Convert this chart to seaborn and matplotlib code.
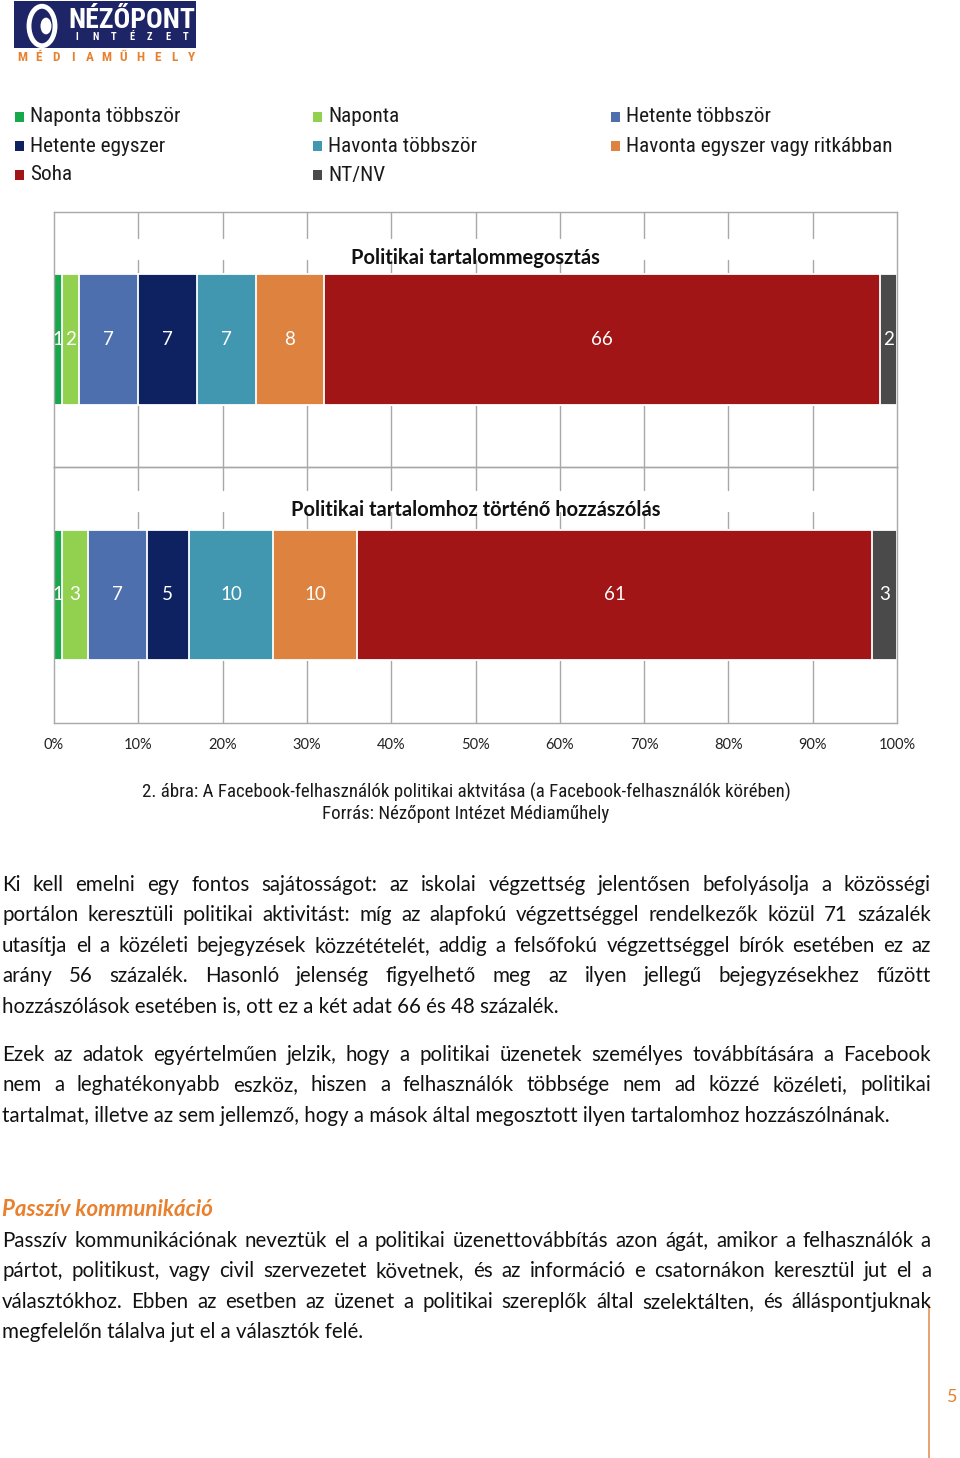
import numpy as np
import pandas as pd
import matplotlib
matplotlib.use("Agg")
import matplotlib.pyplot as plt
import seaborn as sns
from matplotlib import font_manager as fm
from matplotlib.patches import Rectangle, Circle

# ---------------- data ----------------
categories = ["Naponta többször", "Naponta", "Hetente többször", "Hetente egyszer",
              "Havonta többször", "Havonta egyszer vagy ritkábban", "Soha", "NT/NV"]
colors = ["#17a84b", "#92d050", "#4e6fae", "#0e2160", "#4197b0", "#dd823f", "#a11517", "#4a4a4a"]
sharing = [1, 2, 7, 7, 7, 8, 66, 2]
commenting = [1, 3, 7, 5, 10, 10, 61, 3]
panel_titles = ["Politikai tartalommegosztás", "Politikai tartalomhoz történő hozzászólás"]
tick_values = [0, 10, 20, 30, 40, 50, 60, 70, 80, 90, 100]
tick_labels = ["0%", "10%", "20%", "30%", "40%", "50%", "60%", "70%", "80%", "90%", "100%"]

caption = ["2. ábra: A Facebook-felhasználók politikai aktvitása (a Facebook-felhasználók körében)",
           "Forrás: Nézőpont Intézet Médiaműhely"]
para1 = ["Ki kell emelni egy fontos sajátosságot: az iskolai végzettség jelentősen befolyásolja a közösségi",
         "portálon keresztüli politikai aktivitást: míg az alapfokú végzettséggel rendelkezők közül 71 százalék",
         "utasítja el a közéleti bejegyzések közzétételét, addig a felsőfokú végzettséggel bírók esetében ez az",
         "arány 56 százalék. Hasonló jelenség figyelhető meg az ilyen jellegű bejegyzésekhez fűzött",
         "hozzászólások esetében is, ott ez a két adat 66 és 48 százalék."]
para2 = ["Ezek az adatok egyértelműen jelzik, hogy a politikai üzenetek személyes továbbítására a Facebook",
         "nem a leghatékonyabb eszköz, hiszen a felhasználók többsége nem ad közzé közéleti, politikai",
         "tartalmat, illetve az sem jellemző, hogy a mások által megosztott ilyen tartalomhoz hozzászólnának."]
heading = "Passzív kommunikáció"
para3 = ["Passzív kommunikációnak neveztük el a politikai üzenettovábbítás azon ágát, amikor a felhasználók a",
         "pártot, politikust, vagy civil szervezetet követnek, és az információ e csatornákon keresztül jut el a",
         "választókhoz. Ebben az esetben az üzenet a politikai szereplők által szelektálten, és álláspontjuknak",
         "megfelelőn tálalva jut el a választók felé."]
logo_name = "NÉZŐPONT"
logo_sub = "INTÉZET"
logo_unit = "MÉDIAMŰHELY"

# ---------------- fonts ----------------
names = {f.name for f in fm.fontManager.ttflist}
def pick(*cands):
    for c in cands:
        if c in names:
            return c
    return "DejaVu Sans"
BODY = pick("Lato", "Open Sans", "Noto Sans")
NARROW = pick("Liberation Sans Narrow", "Roboto Condensed", "Lato")

sns.set_theme(style="white")
plt.rcParams["font.family"] = [BODY, "DejaVu Sans"]

W, H = 960, 1458
fig = plt.figure(figsize=(W / 100, H / 100), dpi=100)
fig.patch.set_facecolor("white")

def fx(x):
    return x / W
def fy(y):
    return 1 - y / H

GRID = "#a8a8a8"
ORANGE = "#e8812f"

# ---------------- chart panels ----------------
X0, X1 = 54, 897
panels = [(212, 467), (467, 723)]
gaps = [(238, 260), (490, 512)]
title_y = [257, 509]

for i, (vals, title) in enumerate(zip([sharing, commenting], panel_titles)):
    top, bot = panels[i]
    ax = fig.add_axes([fx(X0), fy(bot), (X1 - X0) / W, (bot - top) / H])
    ax.set_facecolor("none")
    cum = np.cumsum(vals)
    df = pd.DataFrame({"series": categories, "value": vals, "cum": cum, "panel": title})
    for j in reversed(range(len(categories))):
        sns.barplot(data=df.iloc[[j]], x="cum", y="panel", orient="h",
                    color=colors[j], saturation=1, width=0.51, errorbar=None,
                    edgecolor="white", linewidth=1.3, ax=ax, zorder=2)
    for j in range(len(categories)):
        ax.text(cum[j] - vals[j] / 2, 0, str(vals[j]), ha="center", va="center",
                color="white", fontsize=13.5, zorder=5)
    ax.set_xlim(0, 100)
    ax.set_ylim(0.5, -0.5)
    ax.set_ylabel("")
    ax.set_xlabel("")
    ax.set_yticks([])
    g0, g1 = gaps[i]
    lo = (bot - g1) / (bot - top)
    hi = (bot - g0) / (bot - top)
    for v in tick_values[1:-1]:
        ax.axvline(v, ymin=0, ymax=lo, color=GRID, lw=1.0, zorder=0)
        ax.axvline(v, ymin=hi, ymax=1, color=GRID, lw=1.0, zorder=0)
    for s in ax.spines.values():
        s.set_visible(True)
        s.set_color(GRID)
        s.set_linewidth(1.0)
    if i == 1:
        ax.set_xticks(tick_values, tick_labels)
        ax.tick_params(axis="x", length=0, pad=11, labelsize=10.5, labelcolor="#222222")
    else:
        ax.set_xticks([])
    fig.text(fx((X0 + X1) / 2), fy(title_y[i] + 1), title, ha="center", va="center",
             fontsize=14.5, fontweight="bold", color="#111111")

# ---------------- legend ----------------
leg_x = [15, 313, 611]
leg_y = [117, 146, 175]
for k, name in enumerate(categories):
    r, c = divmod(k, 3)
    x, y = leg_x[c], leg_y[r]
    fig.add_artist(Rectangle((fx(x), fy(y + 4.5)), 9 / W, 9 / H, transform=fig.transFigure,
                             facecolor=colors[k], edgecolor="none"))
    fig.text(fx(x + 15), fy(y), name, ha="left", va="center", fontsize=15.3,
             family=[NARROW, "DejaVu Sans"], color="#1a1a1a")

# ---------------- caption ----------------
for li, line in enumerate(caption):
    fig.text(fx(466), fy(792 + li * 22), line, ha="center", va="center", fontsize=13.6,
             family=[NARROW, "DejaVu Sans"], color="#1a1a1a")

# ---------------- logo ----------------
NAVY = "#1d2567"
fig.add_artist(Rectangle((fx(14), fy(48)), 182 / W, 47 / H, transform=fig.transFigure,
                         facecolor=NAVY, edgecolor="none"))
fig.add_artist(Circle((fx(42), fy(26)), 13 / W, transform=fig.transFigure,
                      facecolor="none", edgecolor="white", lw=3.5))
fig.add_artist(Circle((fx(46), fy(26)), 5.5 / W, transform=fig.transFigure,
                      facecolor="white", edgecolor="none"))
fig.text(fx(132), fy(20), logo_name, ha="center", va="center", fontsize=20,
         fontweight="bold", color="white", family=[NARROW, "DejaVu Sans"])
sub_x = np.linspace(77, 186, len(logo_sub))
for ch, xx in zip(logo_sub, sub_x):
    fig.text(fx(xx), fy(37), ch, ha="center", va="center", fontsize=7.5,
             fontweight="bold", color="white", family=[NARROW, "DejaVu Sans"])
unit_x = np.linspace(22, 191, len(logo_unit))
for ch, xx in zip(logo_unit, unit_x):
    fig.text(fx(xx), fy(57.5), ch, ha="center", va="center", fontsize=9.5,
             fontweight="bold", color=ORANGE, family=[NARROW, "DejaVu Sans"])

# ---------------- body text ----------------
fig.canvas.draw()
renderer = fig.canvas.get_renderer()

def tw(s, fp):
    w, h, d = renderer.get_text_width_height_descent(s, fp, ismath=False)
    return w

LEFT, RIGHT = 2, 931
base_fs = 14.8
fp0 = fm.FontProperties(family=BODY, size=base_fs)
maxw = max(tw(l, fp0) for p in (para1, para2, para3) for l in p[:-1])
fs = min(base_fs, base_fs * (RIGHT - LEFT - 4) / maxw)
fp = fm.FontProperties(family=BODY, size=fs)

def put_para(lines, y0, dy=30.3):
    for li, line in enumerate(lines):
        y = y0 + li * dy
        if li == len(lines) - 1:
            fig.text(fx(LEFT), fy(y), line, fontproperties=fp, ha="left", va="baseline",
                     color="#111111")
            continue
        words = line.split()
        widths = [tw(w_, fp) for w_ in words]
        gap = (RIGHT - LEFT - sum(widths)) / (len(words) - 1)
        x = LEFT
        for w_, wd in zip(words, widths):
            fig.text(fx(x), fy(y), w_, fontproperties=fp, ha="left", va="baseline",
                     color="#111111")
            x += wd + gap

put_para(para1, 891)
put_para(para2, 1061)
fig.text(fx(LEFT), fy(1216), heading, ha="left", va="baseline", fontsize=16,
         fontweight="bold", fontstyle="italic", color=ORANGE)
put_para(para3, 1247)

# page decoration
fig.add_artist(plt.Line2D([fx(929), fx(929)], [fy(1305), fy(1458)], transform=fig.transFigure,
                          color="#e89a62", lw=1.3))
fig.text(fx(952), fy(1397), "5", ha="center", va="center", fontsize=13, color=ORANGE)

fig.savefig("out.png", dpi=100, facecolor="white")
